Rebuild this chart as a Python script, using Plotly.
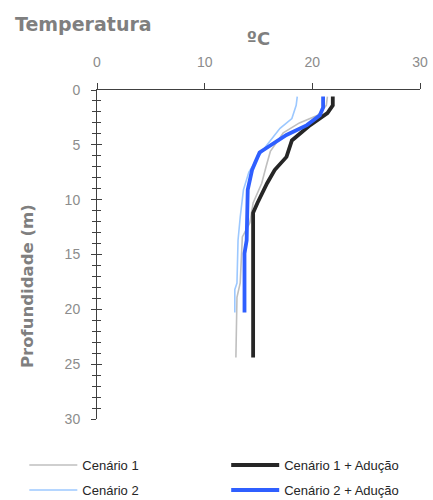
import plotly.graph_objects as go

# Vertical temperature profiles (ºC) against depth (m)
depth_c1 = [0.6, 1.4, 2.3, 3.0, 3.9, 4.7, 5.6, 7.0, 8.5, 10.3, 12.1, 13.4, 17.6, 18.9, 24.4]
temp_c1 = [21.4, 21.3, 20.5, 18.8, 17.3, 16.7, 16.1, 15.7, 15.3, 14.5, 14.2, 13.5, 13.3, 13.0, 12.9]

depth_c1a = [0.6, 1.4, 2.1, 2.6, 3.2, 4.6, 6.1, 7.3, 8.5, 10.3, 11.2, 24.4]
temp_c1a = [21.9, 21.9, 21.4, 20.7, 19.8, 18.1, 17.6, 16.5, 15.8, 14.9, 14.5, 14.5]

depth_c2 = [0.6, 1.4, 2.6, 3.5, 5.0, 6.2, 7.5, 9.1, 11.6, 13.7, 17.6, 18.2, 20.3]
temp_c2 = [18.6, 18.5, 18.1, 17.0, 15.8, 14.9, 14.1, 13.6, 13.3, 13.1, 13.0, 12.8, 12.8]

depth_c2a = [0.6, 1.6, 2.3, 3.2, 4.1, 5.0, 5.7, 6.6, 7.3, 9.1, 11.6, 13.7, 14.9, 20.3]
temp_c2a = [21.0, 21.0, 20.7, 19.5, 17.6, 16.1, 15.1, 14.7, 14.4, 14.0, 13.9, 13.9, 13.7, 13.7]

# (name, temperatures, depths, colour, width)
series = [
    ("Cenário 1", temp_c1, depth_c1, "#bfbfbf", 1.6),
    ("Cenário 1 + Adução", temp_c1a, depth_c1a, "#262626", 3.8),
    ("Cenário 2", temp_c2, depth_c2, "#9cc8ff", 1.6),
    ("Cenário 2 + Adução", temp_c2a, depth_c2a, "#2f5fff", 3.8),
]

# legend grid: one legend box per entry, two columns by two rows
legend_ids = ["legend", "legend2", "legend3", "legend4"]
legend_x = [-0.225, 0.40, -0.225, 0.40]
legend_y = [-0.14, -0.14, -0.216, -0.216]

x_ticks = [0, 10, 20, 30]
y_ticks = [0, 5, 10, 15, 20, 25, 30]

FONT = "Liberation Sans, Arial, sans-serif"
BOLD_FONT = "DejaVu Sans, sans-serif"
GRAY = "#7f7f7f"
AXIS = "#404040"

fig = go.Figure()
for (name, t, d, color, width), leg in zip(series, legend_ids):
    fig.add_trace(go.Scatter(
        x=t, y=d, mode="lines", name=name, legend=leg,
        line=dict(color=color, width=width),
    ))

# secondary y axis only supplies the inward half of the crossing ticks
fig.add_trace(go.Scatter(x=[None], y=[None], yaxis="y2", showlegend=False))

legend_layout = {
    leg: dict(
        orientation="h", xref="paper", yref="paper",
        x=lx, y=ly, xanchor="left", yanchor="middle",
        font=dict(family=FONT, size=13, color="#262626"),
        itemwidth=48, bgcolor="rgba(0,0,0,0)",
    )
    for leg, lx, ly in zip(legend_ids, legend_x, legend_y)
}

fig.update_layout(
    width=433, height=500,
    margin=dict(l=97, r=13, t=90, b=81, autoexpand=False),
    plot_bgcolor="white", paper_bgcolor="white",
    font=dict(family=FONT, color=GRAY, size=14),
    showlegend=True,
    **legend_layout,
    xaxis=dict(
        side="top", range=[0, 30], tickvals=x_ticks,
        showline=True, linecolor=AXIS, linewidth=1,
        ticks="outside", ticklen=6, tickcolor=AXIS,
        showgrid=False, zeroline=False,
        tickfont=dict(size=14, color="#8c8c8c"),
        ticklabelstandoff=10,
        title=dict(text="<b>ºC</b>", font=dict(family=BOLD_FONT, size=18, color=GRAY), standoff=4),
    ),
    yaxis=dict(
        range=[30, 0], tickvals=y_ticks,
        showline=True, linecolor=AXIS, linewidth=1,
        ticks="outside", ticklen=5, tickcolor=AXIS,
        minor=dict(dtick=1, ticks="outside", ticklen=4, tickcolor=AXIS),
        showgrid=False, zeroline=False,
        tickfont=dict(size=14, color="#8c8c8c"),
        ticklabelstandoff=8,
    ),
    yaxis2=dict(
        overlaying="y", side="left", range=[30, 0], tickvals=y_ticks,
        ticks="inside", ticklen=5, tickcolor=AXIS,
        minor=dict(dtick=1, ticks="inside", ticklen=4, tickcolor=AXIS),
        showticklabels=False, showgrid=False, zeroline=False, showline=False,
    ),
    annotations=[
        dict(
            text="<b>Temperatura</b>", xref="paper", yref="paper",
            x=-0.26, y=1.2, xanchor="left", yanchor="middle",
            showarrow=False, font=dict(size=19, color=GRAY, family=BOLD_FONT),
        ),
        dict(
            text="<b>Profundidade (m)</b>", xref="paper", yref="paper",
            x=-0.217, y=0.404, xanchor="center", yanchor="middle", textangle=-90,
            showarrow=False, font=dict(size=16.5, color=GRAY, family=BOLD_FONT),
        ),
    ],
)

fig.write_html("out.html")
